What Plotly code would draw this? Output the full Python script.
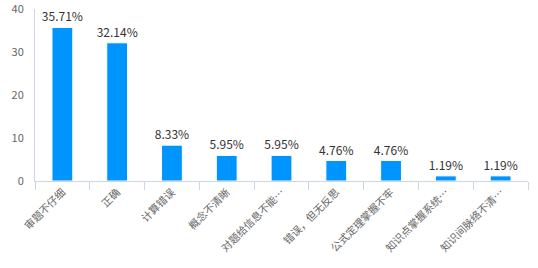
import plotly.graph_objects as go

categories = ["审题不仔细", "正确", "计算错误", "概念不清晰", "对题给信息不能…",
              "错误，但无反思", "公式定理掌握不牢", "知识点掌握系统…", "知识间脉络不清…"]
values = [35.71, 32.14, 8.33, 5.95, 5.95, 4.76, 4.76, 1.19, 1.19]
labels = [f"{v:.2f}%" for v in values]

fig = go.Figure(go.Bar(
    x=categories, y=values, text=labels, textposition="outside",
    textfont=dict(size=12, color="#333333"),
    constraintext="none",
    marker=dict(color="#0094ff", line=dict(color="#ffffff", width=1)),
    width=0.38, cliponaxis=False,
))
fig.update_layout(
    width=538, height=268,
    margin=dict(l=35, r=10, t=9, b=87, autoexpand=False),
    paper_bgcolor="white", plot_bgcolor="white",
    font=dict(family="Noto Sans CJK SC, Microsoft YaHei, sans-serif"),
    showlegend=False,
)
fig.update_xaxes(
    showline=True, linecolor="#ccd6eb", linewidth=1,
    ticks="outside", tickcolor="#ccd6eb", ticklen=8, tickson="boundaries",
    tickangle=-45, tickfont=dict(size=10.5, color="#666666"),
    showgrid=False, automargin=False,
)
fig.update_yaxes(
    range=[0, 40], tickvals=[0, 10, 20, 30, 40],
    showline=True, linecolor="#ccd6eb", linewidth=1,
    showgrid=False, zeroline=False,
    tickfont=dict(size=11, color="#666666"),
    ticks="", ticklabelstandoff=8, ticklabeloverflow="allow", automargin=False,
)
fig.write_html("out.html")
